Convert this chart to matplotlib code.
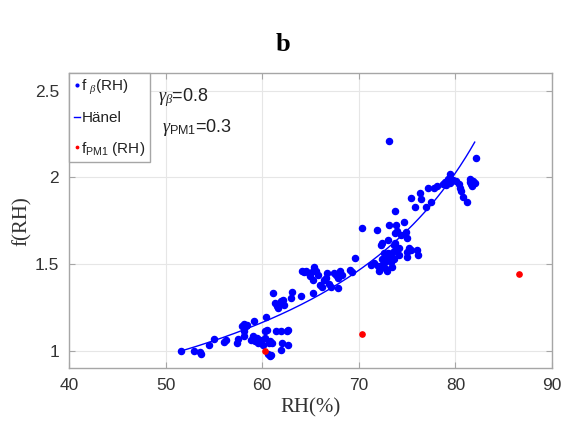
import numpy as np
import matplotlib
matplotlib.use('Agg')
import matplotlib.pyplot as plt

plt.rcParams['font.family'] = ['Liberation Sans', 'DejaVu Sans']
plt.rcParams['mathtext.fontset'] = 'custom'
plt.rcParams['mathtext.rm'] = 'Liberation Sans'
plt.rcParams['mathtext.it'] = 'Liberation Serif:italic'

# f_beta(RH) measurements
rh_beta = [51.6, 52.9, 53.6, 53.7, 54.5, 55.0, 56.0, 56.3, 57.4, 57.5,
           57.9, 58.1, 58.3, 58.1, 58.1, 58.4, 59.2, 58.8, 59.1, 59.3,
           59.5, 59.6, 59.8, 60.1, 60.3, 60.5, 60.4, 60.3, 60.7, 60.8,
           61.0, 60.6, 60.8, 60.9, 61.4, 61.9, 62.6, 62.7, 62.1, 62.7,
           62.0, 61.1, 61.3, 61.5, 61.6, 61.9, 62.2, 62.3, 63.0, 63.1,
           64.0, 65.3,
           64.1, 64.3, 64.5, 64.8, 65.0, 65.3, 65.4, 65.6, 65.3, 65.8,
           66.0, 66.2, 66.4, 66.6, 66.7, 66.9, 67.1, 67.4, 67.6, 67.8,
           67.9, 68.1, 68.3, 69.1, 69.3, 69.6, 70.3,
           71.3, 71.6, 71.9, 72.0, 72.1, 72.2, 72.3, 72.4, 72.6, 72.8,
           73.0, 73.0, 73.1, 73.0, 72.9, 72.7, 73.2, 73.3, 73.5, 73.6,
           73.7, 73.7, 73.8, 73.9, 74.0, 74.0, 74.2, 74.4, 74.7, 74.9,
           75.0, 75.0, 75.0, 75.2, 75.4, 76.0, 76.1, 73.1,
           72.5, 72.8, 73.3, 73.6, 74.2, 72.4, 73.4,
           75.4, 75.8, 76.3, 76.4, 77.0, 77.2, 77.5, 77.8, 78.1, 78.7,
           78.9, 79.0, 79.4, 79.4, 79.8, 80.4, 80.5, 80.6, 80.8, 81.2,
           81.5, 81.6, 81.8, 82.0, 82.1, 79.2, 80.1, 81.5, 81.7]
f_beta = [0.996, 1.00, 0.99, 0.98, 1.035, 1.067, 1.05, 1.061, 1.044, 1.067,
          1.14, 1.154, 1.144, 1.111, 1.083, 1.15, 1.169, 1.063, 1.083, 1.054,
          1.073, 1.044, 1.063, 1.035, 1.111, 1.121, 1.192, 1.073, 1.044, 1.054,
          1.044, 0.981, 0.967, 0.977, 1.115, 1.111, 1.111, 1.121, 1.044, 1.035,
          1.006, 1.332, 1.274, 1.255, 1.246, 1.284, 1.294, 1.265, 1.303, 1.338,
          1.313, 1.332,
          1.457, 1.453, 1.457, 1.447, 1.428, 1.409, 1.48, 1.457, 1.457, 1.438,
          1.38, 1.37, 1.409, 1.422, 1.447, 1.384, 1.37, 1.447, 1.438, 1.418,
          1.361, 1.457, 1.438, 1.466, 1.453, 1.537, 1.71,
          1.495, 1.505, 1.697, 1.486, 1.457, 1.476, 1.61, 1.62, 1.562, 1.543,
          1.639, 1.562, 1.726, 1.534, 1.461, 1.476, 1.524, 1.553, 1.572, 1.61,
          1.62, 1.806, 1.678, 1.726, 1.691, 1.582, 1.591, 1.668, 1.745, 1.687,
          1.649, 1.572, 1.543, 1.591, 1.582, 1.582, 1.553, 2.211,
          1.50, 1.52, 1.51, 1.53, 1.55, 1.53, 1.48,
          1.883, 1.831, 1.908, 1.875, 1.831, 1.937, 1.86, 1.94, 1.95, 1.96,
          1.975, 1.956, 2.017, 1.966, 1.985, 1.96, 1.937, 1.918, 1.889, 1.86,
          1.975, 1.96, 1.979, 1.966, 2.11, 1.99, 1.98, 1.99, 1.95]

# f_PM1(RH) measurements
rh_pm1 = [60.3, 70.3, 86.6]
f_pm1 = [0.996, 1.098, 1.445]

# Hanel fit parameters
gamma_beta = 0.8
gamma_pm1 = 0.3
rh_ref = 51.7
rh_end = 82.0

rh_fit = np.linspace(rh_ref, rh_end, 200)
f_fit = ((100 - rh_fit) / (100 - rh_ref)) ** (-gamma_beta)

fig = plt.figure(figsize=(5.65, 4.28), dpi=100)
ax = fig.add_axes([0.122, 0.140, 0.855, 0.689])

ax.plot(rh_beta, f_beta, 'o', color='#0000ff', markersize=4.4, label=r'f $_{\beta}$(RH)', zorder=3)
ax.plot(rh_fit, f_fit, '-', color='#0000ff', linewidth=1.0, label='Hänel', zorder=2)
ax.plot(rh_pm1, f_pm1, 'o', color='#ff0000', markersize=3.8, label=r'f$_{\rm PM1}$ (RH)', zorder=3)

ax.set_xlim(40, 90)
ax.set_ylim(0.9, 2.6)
ax.set_xticks([40, 50, 60, 70, 80, 90])
ax.set_yticks([1, 1.5, 2, 2.5])
ax.set_yticklabels(['1', '1.5', '2', '2.5'])
ax.grid(True, color='#e6e6e6', linewidth=0.8)
ax.set_axisbelow(True)
ax.tick_params(direction='in', top=True, right=True, length=4, labelsize=12.5,
               colors='#a6a6a6', labelcolor='#333333', pad=7)
for s in ax.spines.values():
    s.set_color('#a6a6a6')
    s.set_linewidth(1.0)

ax.set_xlabel('RH(%)', family='Liberation Serif', fontsize=15, color='#333333', labelpad=4)
ax.set_ylabel('f(RH)', family='Liberation Serif', fontsize=15, color='#333333', labelpad=2)

ax.text(49.2, 2.44, r'$\gamma_{\beta}$=0.8', fontsize=13, color='#222222')
ax.text(49.6, 2.26, r'$\gamma_{\rm PM1}$=0.3', fontsize=13, color='#222222')

leg = ax.legend(loc='upper left', fontsize=11, markerscale=0.45, handlelength=0.4,
                handletextpad=0.12, borderpad=0.3, labelspacing=0.95,
                borderaxespad=0.0, fancybox=False, framealpha=1)
leg.get_frame().set_edgecolor('#a6a6a6')
leg.get_frame().set_linewidth(1.0)
for t in leg.get_texts():
    t.set_color('#222222')

fig.text(0.5, 0.895, 'b', family='Liberation Serif', fontweight='bold',
         fontsize=19, ha='center', va='center')

fig.savefig('out.png', dpi=100, facecolor='white')
